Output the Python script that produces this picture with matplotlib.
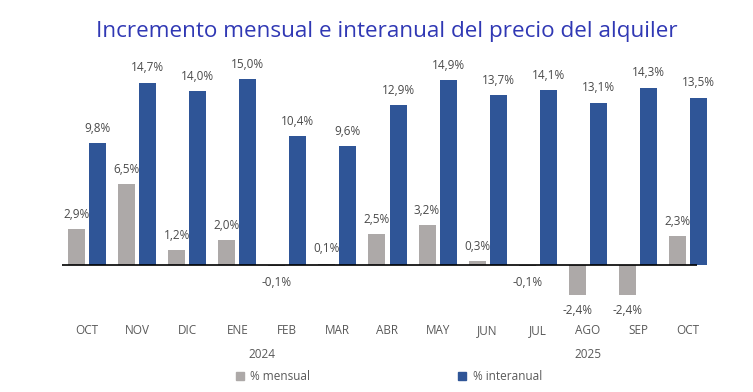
import matplotlib
matplotlib.use("Agg")
import matplotlib.pyplot as plt
from matplotlib.patches import Rectangle

months = ["OCT", "NOV", "DIC", "ENE", "FEB", "MAR", "ABR", "MAY", "JUN", "JUL", "AGO", "SEP", "OCT"]
mensual = [2.9, 6.5, 1.2, 2.0, -0.1, 0.1, 2.5, 3.2, 0.3, -0.1, -2.4, -2.4, 2.3]
interanual = [9.8, 14.7, 14.0, 15.0, 10.4, 9.6, 12.9, 14.9, 13.7, 14.1, 13.1, 14.3, 13.5]
years = ["2024", "2025"]
year_pos = [3.5, 10.0]
series_names = ["% mensual", "% interanual"]

GRAY = "#ADA9A8"
BLUE = "#2F5597"
TXT = "#595959"
LBL = "#4A4A4A"
TITLE_C = "#3038B4"

plt.rcParams["font.family"] = ["Open Sans", "DejaVu Sans"]

fig = plt.figure(figsize=(7.53, 3.92), dpi=100)
W, H = 753, 392
ax = fig.add_axes([62 / W, (H - 320) / H, 651 / W, 260 / H])
zero_px = 265
scale = 12.4
ax.set_ylim(-(320 - zero_px) / scale, (zero_px - 60) / scale)
ax.set_xlim(-0.5, 12.5)

x = list(range(len(months)))
bw = 0.34
off = 0.21
xg = [i - off for i in x]
xb = [i + off for i in x]
ax.bar(xg, mensual, width=bw, color=GRAY, zorder=2)
ax.bar(xb, interanual, width=bw, color=BLUE, zorder=2)
ax.plot([-0.5, 12.18], [0, 0], color="black", lw=1.2, zorder=3, solid_capstyle="butt")

def fmt(v):
    return f"{v:.1f}%".replace(".", ",")

for xi, v in zip(xg, mensual):
    if v >= 0:
        ax.annotate(fmt(v), (xi, v), xytext=(0, 6), textcoords="offset points",
                    ha="center", va="bottom", fontsize=8.5, color=LBL)
    else:
        ax.annotate(fmt(v), (xi, v), xytext=(0, -7), textcoords="offset points",
                    ha="center", va="top", fontsize=8.5, color=LBL)
for xi, v in zip(xb, interanual):
    ax.annotate(fmt(v), (xi, v), xytext=(0, 6), textcoords="offset points",
                ha="center", va="bottom", fontsize=8.5, color=LBL)

for s in ax.spines.values():
    s.set_visible(False)
ax.set_xticks([])
ax.set_yticks([])

def px_x(i):
    return (62 + (i + 0.5) * (651 / 13)) / W

for i, m in enumerate(months):
    fig.text(px_x(i), 1 - 331 / H, m, ha="center", va="center", fontsize=8.5, color=TXT)
for yp, yl in zip(year_pos, years):
    fig.text(px_x(yp), 1 - 355 / H, yl, ha="center", va="center", fontsize=8.5, color=TXT)

# legend
for sx, tx, col, name in [(236, 250, GRAY, series_names[0]), (458, 473, BLUE, series_names[1])]:
    fig.patches.append(Rectangle((sx / W, 1 - 380 / H), 8 / W, 8 / H, transform=fig.transFigure,
                                 color=col, figure=fig))
    fig.text(tx / W, 1 - 376 / H, name, ha="left", va="center", fontsize=8.5, color=TXT)

fig.text(387 / W, 1 - 31 / H, "Incremento mensual e interanual del precio del alquiler",
         ha="center", va="center", fontsize=16.2, color=TITLE_C)

fig.savefig("out.png", dpi=100)
